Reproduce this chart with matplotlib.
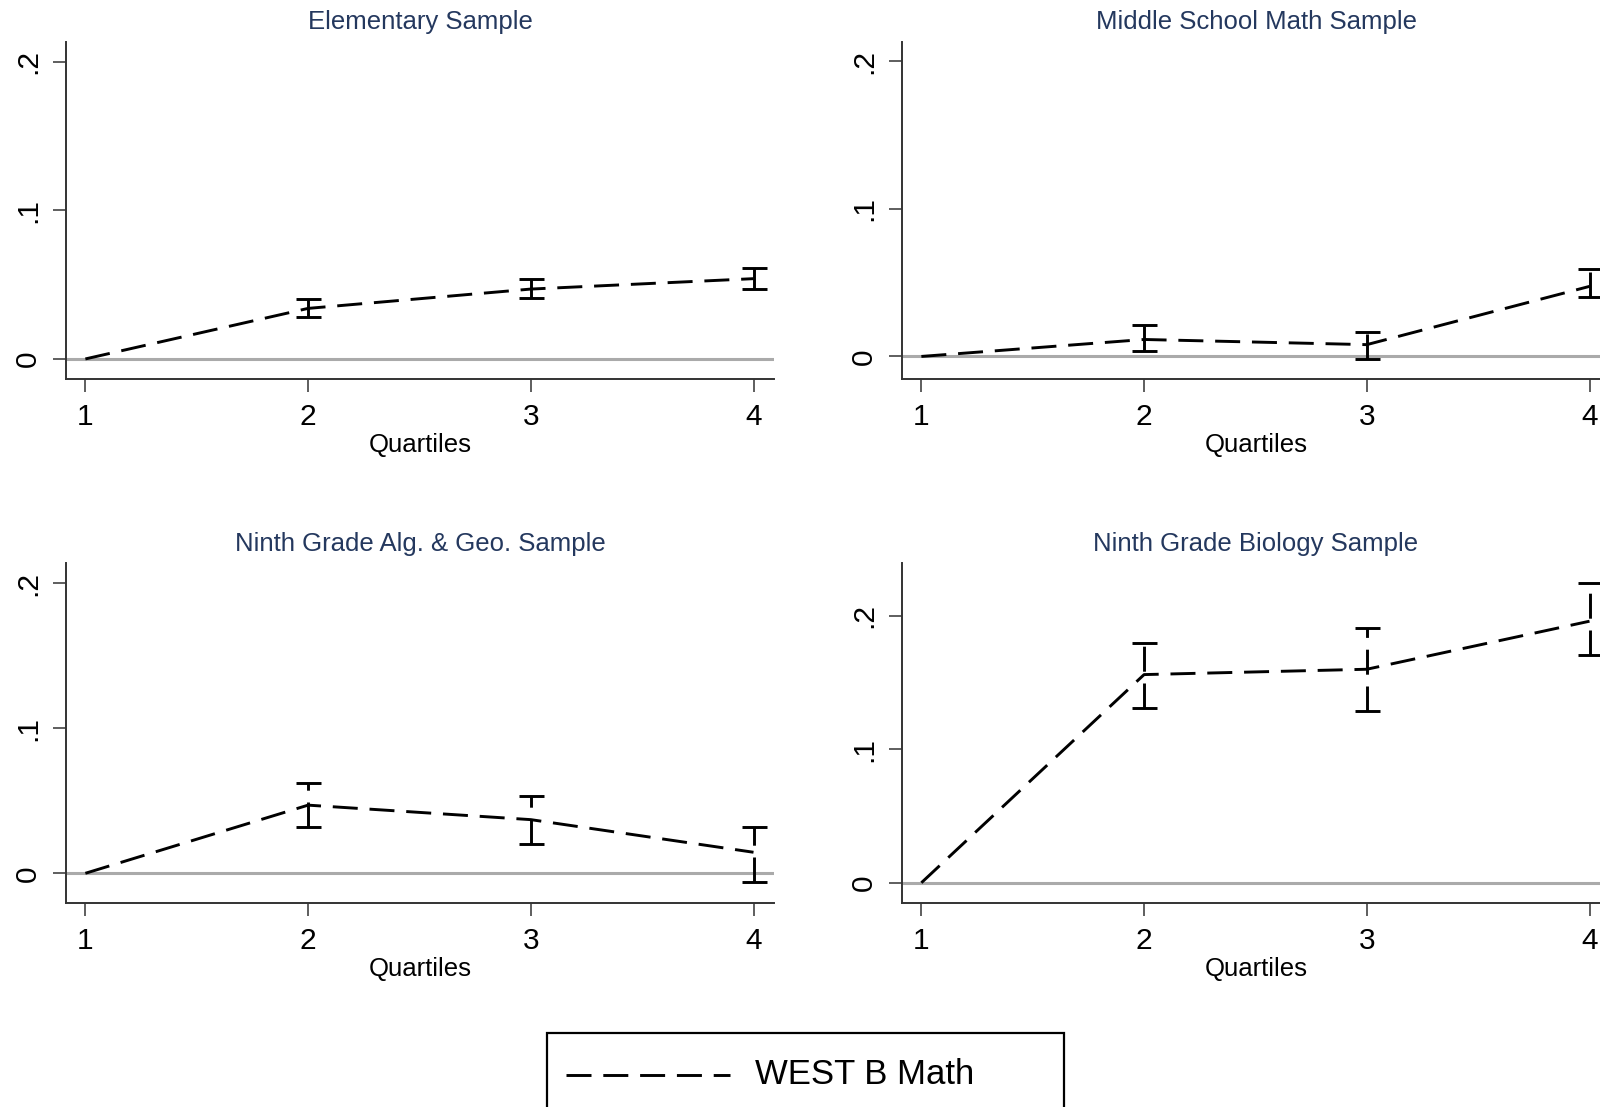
"""
Coefficients by quartile (WEST B Math), four samples in a 2x2 grid.
Stata-style look: dashed black line, dashed capped CIs, grey zero line.
"""
import matplotlib
matplotlib.use("Agg")
import matplotlib.pyplot as plt
from matplotlib.lines import Line2D
from matplotlib.patches import Rectangle

plt.rcParams["font.family"] = ["Liberation Sans", "DejaVu Sans"]
plt.rcParams["lines.scale_dashes"] = False

quartiles = [1, 2, 3, 4]
titles = ["Elementary Sample", "Middle School Math Sample",
          "Ninth Grade Alg. & Geo. Sample", "Ninth Grade Biology Sample"]

# point estimates, lower and upper CI bounds (Q1 is the reference group)
elem_est = [0.0, 0.034, 0.047, 0.054]
elem_lo = [0.0, 0.028, 0.041, 0.047]
elem_hi = [0.0, 0.040, 0.054, 0.061]

middle_est = [0.0, 0.0115, 0.008, 0.0475]
middle_lo = [0.0, 0.004, -0.002, 0.040]
middle_hi = [0.0, 0.021, 0.0165, 0.059]

alggeo_est = [0.0, 0.047, 0.037, 0.0145]
alggeo_lo = [0.0, 0.032, 0.020, -0.006]
alggeo_hi = [0.0, 0.062, 0.053, 0.032]

bio_est = [0.0, 0.156, 0.160, 0.196]
bio_lo = [0.0, 0.131, 0.129, 0.171]
bio_hi = [0.0, 0.180, 0.191, 0.225]

series = [(elem_est, elem_lo, elem_hi), (middle_est, middle_lo, middle_hi),
          (alggeo_est, alggeo_lo, alggeo_hi), (bio_est, bio_lo, bio_hi)]
ylims = [(-0.0137, 0.2134), (-0.0155, 0.2134), (-0.0207, 0.2138), (-0.0154, 0.2394)]

W, H = 1600, 1107
DASH = (0, (18, 8.5))
TITLE_C = "#24385e"
SPINE_C = "#333333"
LW = 2.1

fig = plt.figure(figsize=(W / 100, H / 100), dpi=100)

# axes boxes in pixels: left, top, right, bottom
boxes = [(66, 41.7, 774, 379.3), (902, 41.7, 1610, 379.3),
         (66, 563.3, 774, 903.3), (902, 563.3, 1610, 903.3)]

for i, (title, (est, lo, hi)) in enumerate(zip(titles, series)):
    l, t, r, b = boxes[i]
    ax = fig.add_axes([l / W, 1 - b / H, (r - l) / W, (b - t) / H])
    ax.axhline(0, color="#aaaaaa", lw=2.2, zorder=1)
    ax.plot(quartiles, est, color="black", lw=LW, linestyle=DASH, zorder=3)
    yerr = [[e - a for e, a in zip(est[1:], lo[1:])],
            [c - e for e, c in zip(est[1:], hi[1:])]]
    eb = ax.errorbar(quartiles[1:], est[1:], yerr=yerr, fmt="none", ecolor="black",
                     elinewidth=LW, capsize=9, capthick=LW, zorder=3)
    eb[2][0].set_linestyle(DASH)

    ax.set_xlim(0.913, 4.092)
    ax.set_ylim(*ylims[i])
    ax.set_xticks(quartiles)
    ax.set_yticks([0, 0.1, 0.2])
    ax.set_yticklabels(["0", ".1", ".2"], rotation=90, va="center")
    ax.tick_params(axis="both", length=9.2, width=1.1, color=SPINE_C, labelsize=21.5)
    ax.tick_params(axis="x", pad=8)
    ax.tick_params(axis="y", pad=8)
    for side in ["top", "right"]:
        ax.spines[side].set_visible(False)
    for side in ["left", "bottom"]:
        ax.spines[side].set_color(SPINE_C)
        ax.spines[side].set_linewidth(1.4)
    ax.set_xlabel("Quartiles", fontsize=18.5, labelpad=1)
    ax.set_title(title, fontsize=18.5, color=TITLE_C, pad=9)

# legend box (Stata-style, runs off the bottom edge)
fig.add_artist(Rectangle((547 / W, -0.05), (1064 - 547) / W, (H - 1033) / H + 0.05,
                         transform=fig.transFigure, fill=False, edgecolor="black", lw=1.6))
ly = 1 - 1075 / H
fig.add_artist(Line2D([566 / W, 730 / W], [ly, ly], transform=fig.transFigure,
                      color="black", lw=LW, linestyle=DASH))
fig.text(755 / W, ly, "WEST B Math", fontsize=25, va="center", ha="left")

fig.savefig("out.png", dpi=100)
